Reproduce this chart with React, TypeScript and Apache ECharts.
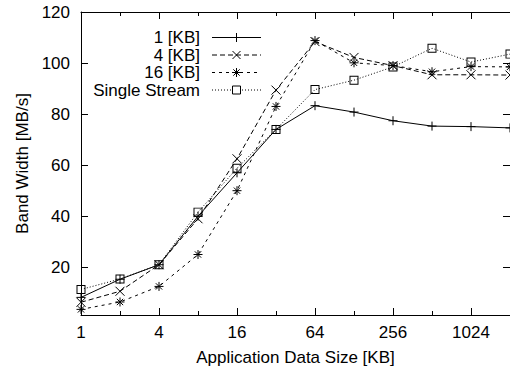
import React, { useEffect, useRef } from "react";
import * as echarts from "echarts";

const sizes = [1, 2, 4, 8, 16, 32, 64, 128, 256, 512, 1024, 2048];
const seriesNames = ["1 [KB]", "4 [KB]", "16 [KB]", "Single Stream"];
const kb1 = [8.2, 15.3, 21, 40, 57, 74, 83.3, 80.8, 77.4, 75.3, 75.1, 74.6];
const kb4 = [6.3, 10.6, 21, 39, 62.5, 89.4, 108.4, 102.2, 99, 95.4, 95.4, 95.3];
const kb16 = [3.5, 6.4, 12.5, 25, 50, 83, 108.8, 100.1, 99, 96.6, 98.6, 98.5];
const single = [11.3, 15.4, 21, 41.6, 58.8, 74, 89.6, 93.3, 98.5, 105.8, 100.4, 103.5];
const yTickValues = [20, 40, 60, 80, 100, 120];
const xLabelValues = [1, 4, 16, 64, 256, 1024];
const xMinorValues = [2, 8, 32, 128, 512];

const FONT = '"Liberation Sans", Arial, Helvetica, sans-serif';

const PLUS = "path://M0,5L10,5M5,0L5,10";
const CROSS = "path://M0,0L10,10M0,10L10,0";
const STAR = "path://M0,5L10,5M5,0L5,10M1.5,1.5L8.5,8.5M1.5,8.5L8.5,1.5";
const SQUARE = "path://M0,0L10,0L10,10L0,10Z M1.1,1.1L1.1,8.9L8.9,8.9L8.9,1.1Z";

const LEG_PATHS = [
  "M-4.5,0L4.5,0M0,-4.5L0,4.5",
  "M-4,-4L4,4M-4,4L4,-4",
  "M-4.5,0L4.5,0M0,-4.5L0,4.5M-3.2,-3.2L3.2,3.2M-3.2,3.2L3.2,-3.2",
  "M-4,-4L4,-4L4,4L-4,4Z",
];
let registered = false;
function registerLegendShapes() {
  if (registered) return;
  registered = true;
  LEG_PATHS.forEach((d, i) => {
    echarts.graphic.registerShape("legsym" + i, echarts.graphic.extendPath(d, {}) as any);
  });
}

export default function App() {
  const ref = useRef<HTMLDivElement>(null);
  useEffect(() => {
    if (!ref.current) return;
    registerLegendShapes();
    const chart = echarts.init(ref.current, undefined, { renderer: "svg" });
    const valuesList = [kb1, kb4, kb16, single];
    const symbols = [PLUS, CROSS, STAR, SQUARE];
    const lineTypes: any[] = ["solid", [5, 3], [3, 4], [1, 2]];
    const borderWidths = [1, 1, 1, 0];
    const series = seriesNames.map((name, i) => ({
      name,
      type: "line",
      xAxisIndex: 0,
      yAxisIndex: 0,
      data: sizes.map((s, j) => [s, valuesList[i][j]]),
      symbol: symbols[i],
      symbolSize: 9,
      showAllSymbol: true,
      lineStyle: { color: "#000", width: 1, type: lineTypes[i] },
      itemStyle: { color: "#000", borderColor: "#000", borderWidth: borderWidths[i] },
      emphasis: { disabled: true },
    }));

    const logAxisBase = {
      type: "log",
      logBase: 2,
      min: 1,
      max: 2048,
      splitLine: { show: false },
      minorTick: { show: false },
      minorSplitLine: { show: false },
    };
    const axisLine = { show: true, lineStyle: { color: "#000", width: 1 } };

    // legend drawn as graphics
    const rowY = [37.5, 55, 72.5, 90];
    const legDash: any[] = [null, [5, 3], [3, 4], [1, 2]];
    const graphics: any[] = [];
    seriesNames.forEach((n, i) => {
      graphics.push({
        type: "text",
        x: 200,
        y: rowY[i],
        style: {
          text: n,
          align: "right",
          verticalAlign: "middle",
          font: `17px ${FONT}`,
          lineHeight: 15,
          fill: "#000",
        },
      });
      graphics.push({
        type: "line",
        shape: { x1: 212, y1: rowY[i], x2: 261, y2: rowY[i] },
        style: { stroke: "#000", lineWidth: 1, lineDash: legDash[i] },
      });
      graphics.push({
        type: "legsym" + i,
        x: 236.5,
        y: rowY[i],
        style: { stroke: "#000", fill: i === 3 ? "#fff" : "none", lineWidth: 1 },
      });
    });

    chart.setOption({
      animation: false,
      backgroundColor: "#fff",
      textStyle: { fontFamily: FONT },
      grid: { left: 81, top: 12, width: 430, height: 303, containLabel: false },
      graphic: graphics,
      xAxis: [
        {
          ...logAxisBase,
          position: "bottom",
          name: "Application Data Size [KB]",
          nameLocation: "middle",
          nameGap: 34,
          nameTextStyle: { fontSize: 17, color: "#000", fontFamily: FONT },
          axisLine,
          axisTick: { show: true, inside: true, length: 7, customValues: xLabelValues, lineStyle: { color: "#000" } },
          axisLabel: {
            show: true,
            customValues: xLabelValues,
            formatter: (v: number) => String(Math.round(v)),
            fontSize: 17,
            color: "#000",
            fontFamily: FONT,
            margin: 9,
          },
        },
        {
          ...logAxisBase,
          position: "bottom",
          axisLine: { show: false },
          axisTick: { show: true, inside: true, length: 4, customValues: xMinorValues, lineStyle: { color: "#000" } },
          axisLabel: { show: false },
        },
        {
          ...logAxisBase,
          position: "top",
          axisLine,
          axisTick: { show: true, inside: true, length: 7, customValues: xLabelValues, lineStyle: { color: "#000" } },
          axisLabel: { show: false },
        },
        {
          ...logAxisBase,
          position: "top",
          axisLine: { show: false },
          axisTick: { show: true, inside: true, length: 4, customValues: xMinorValues, lineStyle: { color: "#000" } },
          axisLabel: { show: false },
        },
      ],
      yAxis: [
        {
          type: "value",
          position: "left",
          min: 1.3,
          max: 120,
          name: "Band Width [MB/s]",
          nameLocation: "middle",
          nameGap: 50,
          nameTextStyle: { fontSize: 17, color: "#000", fontFamily: FONT },
          splitLine: { show: false },
          axisLine,
          axisTick: { show: true, inside: true, length: 7, customValues: yTickValues, lineStyle: { color: "#000" } },
          axisLabel: { show: true, customValues: yTickValues, fontSize: 17, color: "#000", fontFamily: FONT, margin: 11 },
        },
        {
          type: "value",
          position: "right",
          min: 1.3,
          max: 120,
          splitLine: { show: false },
          axisLine,
          axisTick: { show: true, inside: true, length: 7, customValues: yTickValues, lineStyle: { color: "#000" } },
          axisLabel: { show: false },
        },
      ],
      series,
    });
    return () => chart.dispose();
  }, []);
  return (
    <div
      ref={ref}
      style={{ position: "fixed", left: 0, top: 0, width: 510, height: 373 }}
    />
  );
}
